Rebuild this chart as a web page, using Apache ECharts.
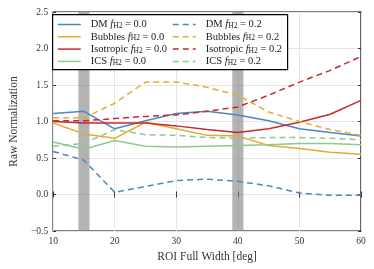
<!DOCTYPE html>
<html><head><meta charset="utf-8">
<script src="https://cdn.jsdelivr.net/npm/echarts@6/dist/echarts.min.js"></script>
<style>html,body{margin:0;padding:0;background:#fff}#c{width:374px;height:269px}</style>
</head><body><div id="c"></div>
<script>
const xs = [10, 15, 20, 25, 30, 35, 40, 45, 50, 55, 60];
const dm0 = [1.11, 1.14, 0.90, 1.01, 1.11, 1.14, 1.09, 1.01, 0.90, 0.85, 0.80];
const dm2 = [0.59, 0.47, 0.03, 0.11, 0.19, 0.21, 0.18, 0.12, 0.02, -0.01, -0.01];
const bub0 = [0.98, 0.83, 0.77, 0.99, 0.90, 0.81, 0.80, 0.67, 0.63, 0.58, 0.55];
const bub2 = [1.05, 1.05, 1.25, 1.54, 1.54, 1.47, 1.36, 1.13, 1.00, 0.89, 0.81];
const iso0 = [1.00, 0.98, 0.98, 0.98, 0.94, 0.89, 0.85, 0.90, 0.99, 1.10, 1.29];
const iso2 = [1.01, 1.01, 1.04, 1.07, 1.09, 1.14, 1.20, 1.36, 1.54, 1.70, 1.89];
const ics0 = [0.72, 0.62, 0.74, 0.66, 0.65, 0.66, 0.67, 0.68, 0.70, 0.70, 0.68];
const ics2 = [0.66, 0.70, 0.89, 0.82, 0.81, 0.78, 0.77, 0.78, 0.78, 0.77, 0.75];
const bands = [[14.1, 15.9], [39.1, 40.9]];

const colors = {DM: '#4a88c4', Bubbles: '#e8aa2e', Isotropic: '#c9282e', ICS: '#90c890'};
const font = 'Liberation Serif';
const pairs = a => xs.map((x, i) => [x, a[i]]);
function line(label, f, data, dashed) {
  return {
    name: label + '|' + f, type: 'line', data: pairs(data), showSymbol: false, symbol: 'none', z: 2,
    color: colors[label], animation: false,
    lineStyle: {width: 1.5, color: colors[label], type: dashed ? [6, 4] : 'solid'}
  };
}
const series = [
  line('DM', '0.0', dm0, false), line('Bubbles', '0.0', bub0, false),
  line('Isotropic', '0.0', iso0, false), line('ICS', '0.0', ics0, false),
  line('DM', '0.2', dm2, true), line('Bubbles', '0.2', bub2, true),
  line('Isotropic', '0.2', iso2, true), line('ICS', '0.2', ics2, true),
  {type: 'line', data: [], z: 3, silent: true, animation: false,
   markArea: {silent: true, itemStyle: {color: 'rgba(128,128,128,0.6)'},
     data: bands.map(b => [{xAxis: b[0]}, {xAxis: b[1]}])}}
];
const rich = {
  a: {fontFamily: font, fontSize: 10.5, color: '#222', lineHeight: 11},
  i: {fontFamily: font, fontSize: 10.5, fontStyle: 'italic', color: '#222', lineHeight: 11},
  s: {fontFamily: font, fontSize: 7.5, color: '#222', lineHeight: 11, verticalAlign: 'bottom'}
};
const fmt = n => { const p = n.split('|'); return '{a|' + p[0] + ' }{i|f}{s|H2}{a| = ' + p[1] + '}'; };
function legend(left, names) {
  return {orient: 'vertical', left: left, top: 19, itemWidth: 23, itemHeight: 9, itemGap: 1.3,
    data: names, formatter: fmt, selectedMode: false, z: 5, padding: 0,
    itemStyle: {opacity: 0}, lineStyle: {width: 1.5},
    textStyle: {rich: rich, padding: [0, 0, 0, 5]}};
}
const axisCommon = {
  type: 'value', axisLine: {show: false},
  axisTick: {show: true, inside: true, length: 3, lineStyle: {color: '#000', width: 0.8}},
  splitLine: {show: false}
};
const chart = echarts.init(document.getElementById('c'), null, {renderer: 'canvas'});
chart.setOption({
  animation: false,
  grid: {left: 48, right: 13, top: 12, bottom: 38, show: true, borderColor: '#000', borderWidth: 1.2, backgroundColor: '#fff', z: 0},
  xAxis: [
    Object.assign({}, axisCommon, {min: 10, max: 60, interval: 10, position: 'bottom',
      name: 'ROI Full Width [deg]', nameLocation: 'middle', nameGap: 18,
      nameTextStyle: {fontFamily: font, fontSize: 11.5, color: '#333'},
      axisLabel: {fontFamily: font, fontSize: 9.5, color: '#333', margin: 5},
      splitLine: {show: true, lineStyle: {color: '#e6e6e6', width: 1}}}),
    Object.assign({}, axisCommon, {min: 10, max: 60, interval: 10, position: 'top', axisLabel: {show: false}})
  ],
  yAxis: [
    Object.assign({}, axisCommon, {min: -0.5, max: 2.5, interval: 0.5, position: 'left',
      name: 'Raw Normalization', nameLocation: 'middle', nameGap: 30,
      nameTextStyle: {fontFamily: font, fontSize: 11.5, color: '#333'},
      axisLabel: {fontFamily: font, fontSize: 9.5, color: '#333', margin: 5,
        formatter: v => v.toFixed(1).replace('-', '\u2212')},
      splitLine: {show: true, lineStyle: {color: '#e6e6e6', width: 1}}}),
    Object.assign({}, axisCommon, {min: -0.5, max: 2.5, interval: 0.5, position: 'right', axisLabel: {show: false}})
  ],
  legend: [
    legend(57, ['DM|0.0', 'Bubbles|0.0', 'Isotropic|0.0', 'ICS|0.0']),
    legend(172, ['DM|0.2', 'Bubbles|0.2', 'Isotropic|0.2', 'ICS|0.2'])
  ],
  graphic: [{type: 'rect', left: 52, top: 14, z: 4, shape: {width: 235, height: 55},
    style: {fill: '#fff', stroke: '#000', lineWidth: 1.2}}],
  series: series
});
</script></body></html>
